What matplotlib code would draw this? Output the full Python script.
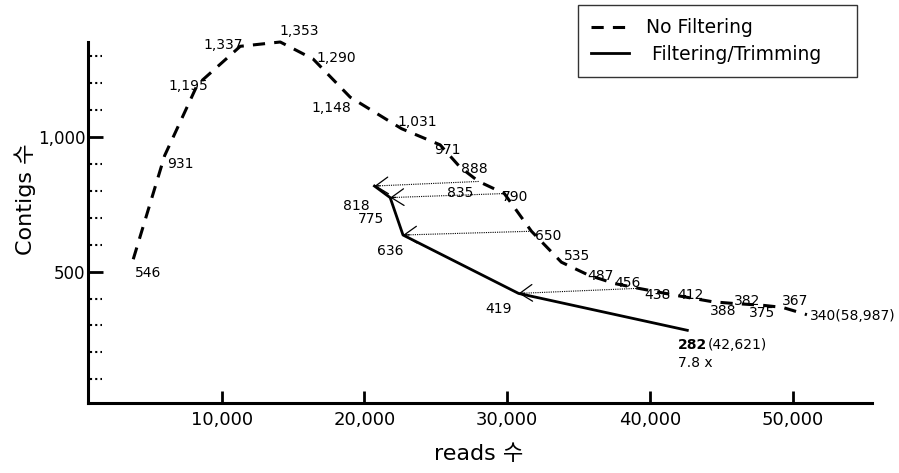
import numpy as np
import matplotlib
matplotlib.use("Agg")
import matplotlib.pyplot as plt

plt.rcParams["font.family"] = ["DejaVu Sans", "Noto Sans CJK KR"]
plt.rcParams["font.size"] = 10

# No Filtering (dashed)
raw_reads = [3800, 6000, 8300, 11300, 14100, 16400, 19000, 22600, 25300, 26700,
             28000, 29800, 31700, 33800, 35700, 37500, 39200, 41800, 44400, 45800,
             47900, 49300, 51000]
raw_contigs = [546, 931, 1195, 1337, 1353, 1290, 1148, 1031, 971, 888,
               835, 790, 650, 535, 487, 456, 438, 412, 388, 382,
               375, 367, 340]
raw_labels = ["546", "931", "1,195", "1,337", "1,353", "1,290", "1,148", "1,031", "971", "888",
              "835", "790", "650", "535", "487", "456", "438", "412", "388", "382",
              "375", "367", "340(58,987)"]

# Filtering/Trimming (solid)
trim_reads = [20700, 21800, 22700, 30800, 42621]
trim_contigs = [818, 775, 636, 419, 282]
trim_labels = ["818", "775", "636", "419", "282"]

# which raw point maps onto which trimmed point
arrow_pairs = [(10, 0), (11, 1), (12, 2), (16, 3)]

y_major = [500, 1000]
y_minor = [100, 200, 300, 400, 600, 700, 800, 900, 1100, 1200, 1300]
x_major = [10000, 20000, 30000, 40000, 50000]

# label offsets in pixels (dx, dy), placement only
raw_off = [(15, -14), (16, -8), (-9, -1), (-17, 1), (19, 11), (23, 1), (-19, -11), (16, 7),
           (7, -5), (14, -2), (-18, -12), (11, -3), (17, -5), (16, 6), (12, -1), (13, 0),
           (19, -7), (15, 0), (10, -9), (14, 2), (-1, -8), (12, 6), (3, -1)]
trim_off = [(-18, -20), (-19, -21), (-13, -16), (-20, -16)]

fig = plt.figure(figsize=(8.99, 4.73), dpi=100)
ax = fig.add_axes([88 / 899, 70 / 473, 784 / 899, 361 / 473])

ax.plot(raw_reads, raw_contigs, color="black", lw=2.2, linestyle=(0, (4, 3)),
        clip_on=False, label="No Filtering")
ax.plot(trim_reads, trim_contigs, color="black", lw=2.0, clip_on=False,
        label=" Filtering/Trimming")

for i, j in arrow_pairs:
    x0, y0 = raw_reads[i], raw_contigs[i]
    x1, y1 = trim_reads[j], trim_contigs[j]
    ax.plot([x0, x1], [y0, y1], color="black", lw=0.8, linestyle=(0, (1, 1)))
    ax.annotate("", xy=(x1, y1), xytext=(x1 + 0.05 * (x0 - x1), y1 + 0.05 * (y0 - y1)),
                arrowprops=dict(arrowstyle="->,head_length=0.75,head_width=0.5",
                                lw=0.9, color="black", mutation_scale=12,
                                shrinkA=0, shrinkB=0))

for x, y, t, (dx, dy) in zip(raw_reads, raw_contigs, raw_labels, raw_off):
    ha = "left" if t.startswith("340") else "center"
    ax.annotate(t, (x, y), xytext=(dx, dy), textcoords="offset pixels",
                ha=ha, va="center", fontsize=10, annotation_clip=False)

for x, y, t, (dx, dy) in zip(trim_reads[:-1], trim_contigs[:-1], trim_labels[:-1], trim_off):
    ax.annotate(t, (x, y), xytext=(dx, dy), textcoords="offset pixels",
                ha="center", va="center", fontsize=10)

t_end = ax.annotate(trim_labels[-1], (trim_reads[-1], trim_contigs[-1]), xytext=(-9, -15),
                    textcoords="offset pixels", ha="left", va="center",
                    fontsize=10, fontweight="bold")
ax.annotate("(42,621)", xy=(1, 0.5), xycoords=t_end, ha="left", va="center", fontsize=10)
ax.annotate("7.8 x", (trim_reads[-1], trim_contigs[-1]), xytext=(-9, -33),
            textcoords="offset pixels", ha="left", va="center", fontsize=10)

ax.set_xlim(630, 55560)
ax.set_ylim(12, 1353)

ax.spines[["right", "top"]].set_visible(False)
ax.spines[["left", "bottom"]].set_linewidth(2.2)

ax.set_yticks(y_major)
ax.set_yticklabels([f"{v:,}" for v in y_major])
ax.set_xticks(x_major)
ax.set_xticklabels([f"{v:,}" for v in x_major])
ax.tick_params(axis="y", direction="in", length=11, width=2.0, labelsize=12, pad=2)
ax.tick_params(axis="x", direction="in", length=9, width=2.0, labelsize=13, pad=6)

# dotted minor marks
ax.hlines(y_minor, 0.003, 0.018, transform=ax.get_yaxis_transform(), colors="black",
          lw=1.5, linestyles=[(0, (1, 1.5))])

ax.set_ylabel("Contigs 수", fontsize=16)
ax.yaxis.set_label_coords(-0.066, 0.565)
ax.set_xlabel("reads 수", fontsize=16)
ax.xaxis.set_label_coords(0.498, -0.113)

leg = fig.legend(loc="upper left", mode="expand",
                 bbox_to_anchor=(578 / 899, (473 - 74) / 473, 279 / 899, 69 / 473),
                 fontsize=13.5, frameon=True, fancybox=False, edgecolor="black",
                 handlelength=2.0, handletextpad=0.9, labelspacing=0.4,
                 borderaxespad=0, borderpad=0.7)
leg.get_frame().set_linewidth(1.0)

fig.savefig("out.png", dpi=100)
